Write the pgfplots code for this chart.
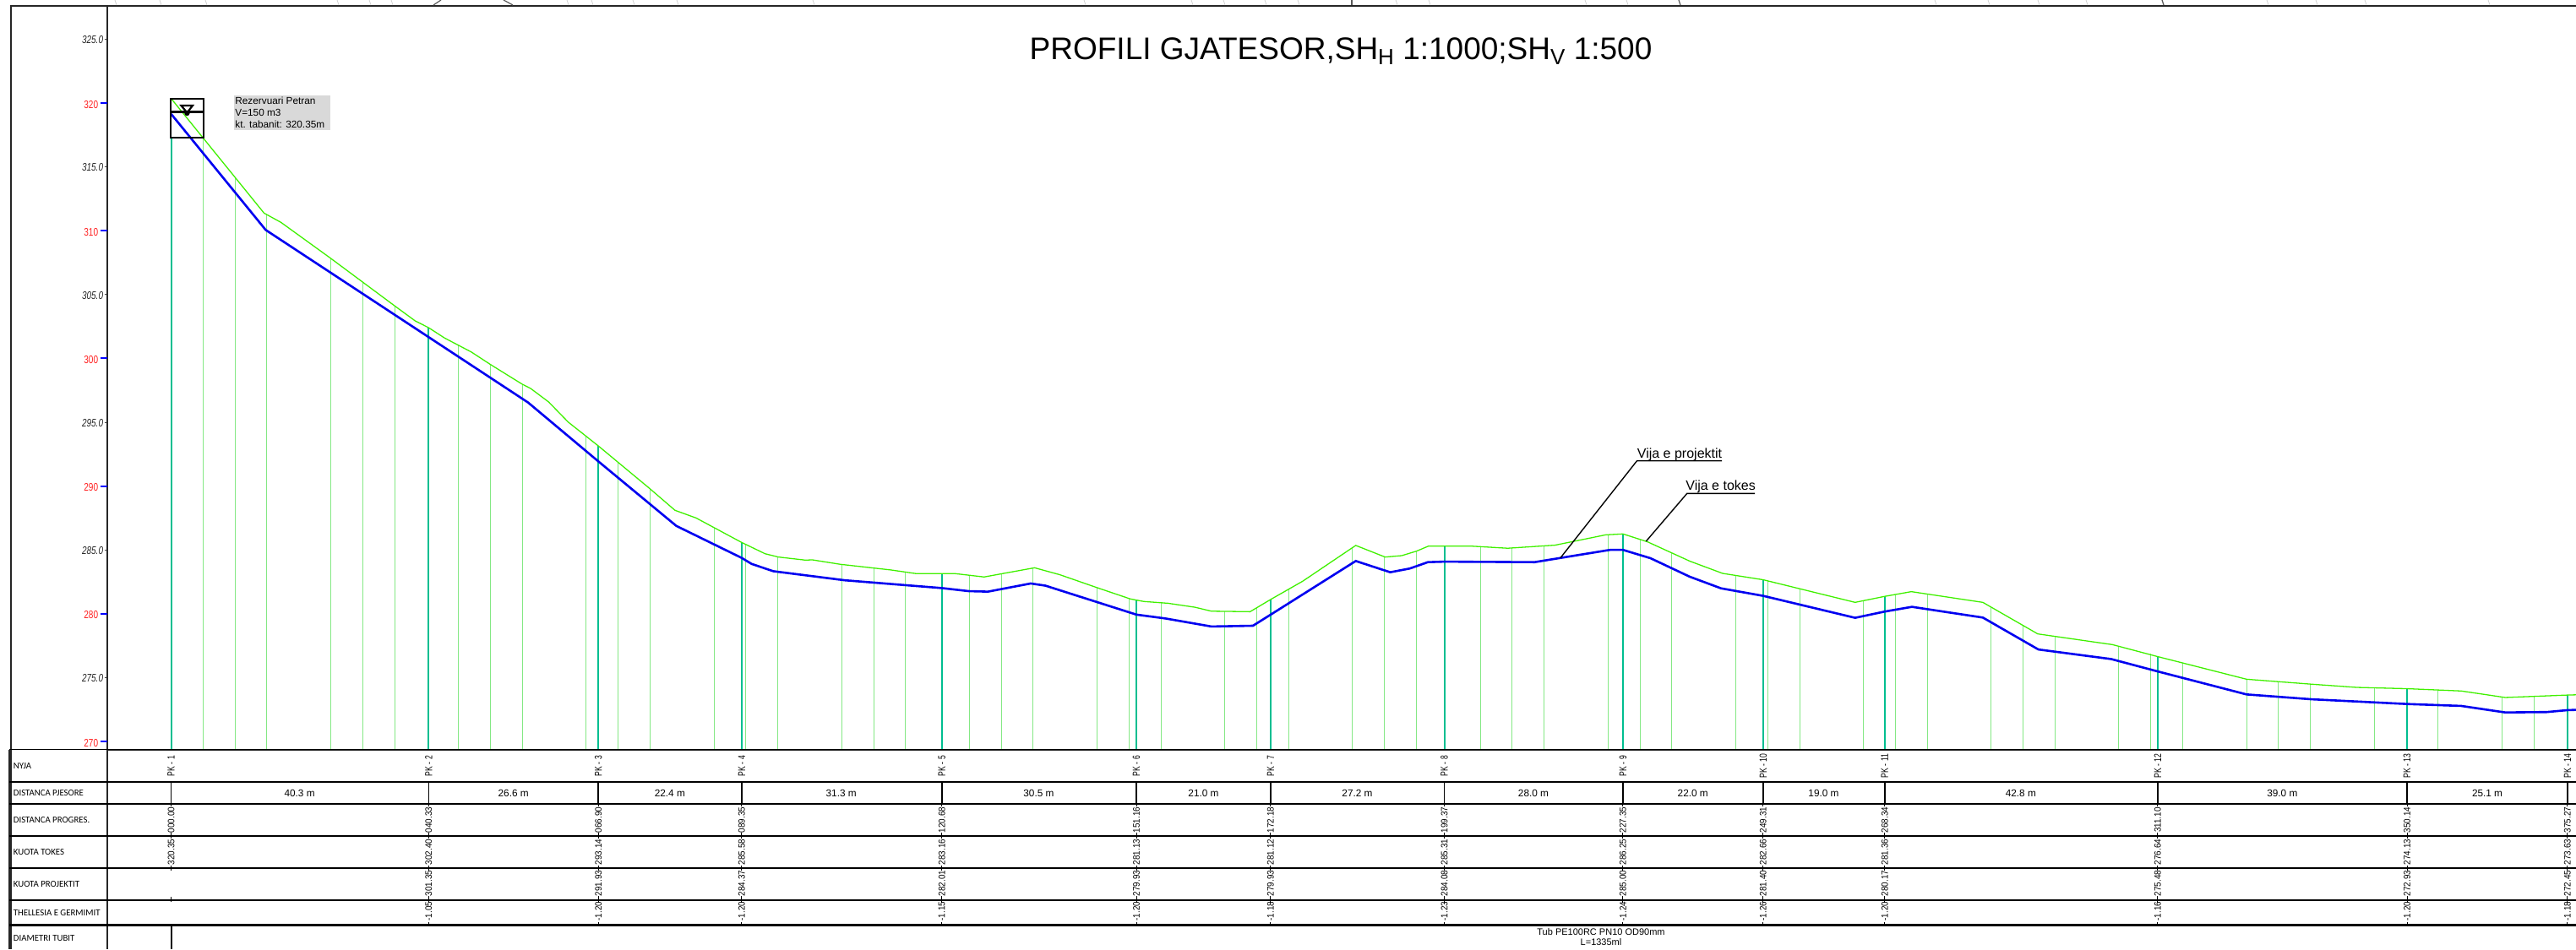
\documentclass[border=0pt]{standalone}
\usepackage{pgfplots}
\usepackage{pgfplotstable}
\usepackage{fontspec}
\usepackage{graphicx}
\pgfplotsset{compat=1.18}
\setmainfont{Liberation Sans}
\newfontfamily\carlito{Carlito}
\definecolor{gnd}{HTML}{40F000}
\definecolor{pipe}{HTML}{0000F0}
\definecolor{stick}{HTML}{84E884}
\definecolor{stat}{HTML}{00BE90}
\definecolor{tickred}{HTML}{FF2020}
\newcommand\subs[1]{\raisebox{-0.3ex}{\fontsize{13}{13}\selectfont #1}}
\newcommand\tl[1]{\scalebox{.77}[1]{#1}}
\newcommand\vl[1]{\scalebox{.9}[1]{#1}}
\newcommand\pk[1]{\scalebox{.72}[1]{#1}}
\pgfplotstableread{
d Y
0 320.35
14.54 311.38
17.2 310.65
25 307.83
34.9 304.15
38.2 302.94
40.33 302.40
42.8 301.6
47 300.5
50 299.52
54.9 298.0
56.3 297.64
59.1 296.59
62.2 295.0
66.9 293.14
74.9 289.82
78.9 288.1
82.2 287.5
89.35 285.58
93 284.7
95.1 284.44
99.3 284.2
100.4 284.22
104.8 283.87
112.7 283.43
116.7 283.14
122.8 283.14
127.3 282.88
135.2 283.6
139.2 283.05
145 282.04
150.2 281.16
152.3 280.96
156.1 280.82
160.3 280.51
162.9 280.2
168.96 280.16
172.18 281.12
177.2 282.55
185.5 285.35
190.1 284.44
192.7 284.55
195 284.9
196.9 285.3
203.4 285.3
209.3 285.13
216.7 285.37
224.65 286.18
227.35 286.25
231.2 285.63
237.8 284.12
242.95 283.16
249.31 282.66
263.7 280.89
268.34 281.36
272.5 281.73
283.7 280.89
292.3 278.42
304 277.58
311.1 276.64
325 274.87
335.2 274.48
342.3 274.23
350.14 274.13
358.6 273.95
365.5 273.44
375.27 273.63
376.6 273.65
}\ground
\pgfplotstableread{
d Y
0 319.14
14.8 310.06
55.9 296.54
66.9 291.93
79.1 286.88
89.35 284.37
90.9 283.9
94.3 283.33
105.5 282.62
120.68 282.01
124.9 281.77
127.9 281.73
134.6 282.37
136.9 282.2
151.16 279.93
155.7 279.63
162.9 279.0
169.4 279.06
172.18 279.93
185.5 284.13
190.9 283.25
193.95 283.54
196.8 284.04
199.37 284.08
213.5 284.04
225.3 285.0
227.35 285.0
231.65 284.35
237.8 282.9
242.7 281.99
249.31 281.40
263.7 279.68
268.34 280.17
272.6 280.54
283.7 279.7
292.4 277.2
303.8 276.45
311.1 275.48
325 273.68
335.2 273.3
350.14 272.93
358.6 272.78
365.5 272.27
372 272.3
375.27 272.45
376.6 272.47
}\project
\pgfplotstableread{
d Y
5 317.3
10 314.18
15 311.25
25 307.83
30 305.97
35 304.1
45 301.02
50 299.52
55 297.96
65 293.89
70 291.85
75 289.78
85 286.75
90 285.42
95 284.45
105 283.85
110 283.58
115 283.31
125 283.01
130 283.12
135 283.58
145 282.04
150 281.19
155 280.86
165 280.19
170 280.47
175 281.92
185 285.18
190 284.46
195 284.9
205 285.25
210 285.15
215 285.31
225 286.2
230 285.8
235 284.75
245 283.0
250 282.62
255 281.96
265 281.02
270 281.5
275 281.54
285 280.52
290 279.08
295 278.23
305 277.45
310 276.85
315 276.14
325 274.87
330 274.68
335 274.49
345 274.2
355 274.03
365 273.48
370 273.53
}\sticks
\pgfplotstableread{
d Y
0 317.3
40.33 302.40
66.90 293.14
89.35 285.58
120.68 283.16
151.16 281.13
172.18 281.12
199.37 285.31
227.35 286.25
249.31 282.66
268.34 281.36
311.10 276.64
350.14 274.13
375.27 273.63
}\stations
\begin{document}
\begin{tikzpicture}
\path[use as bounding box] (0pt,0pt) rectangle (1524.5pt,-562pt);
\begin{axis}[
  at={(63.25pt,-443.75pt)}, anchor=south west,
  scale only axis, width=1461.25pt, height=440.5pt,
  xmin=-10.07, xmax=376.6, ymin=269.37, ymax=327.64,
  axis y line=left, axis x line=bottom,
  axis line style={-, line width=1pt, draw=black!85},
  xtick=\empty,
  clip mode=individual,
  ytick={275,285,295,305,315,325},
  yticklabels={\tl{275.0},\tl{285.0},\tl{295.0},\tl{305.0},\tl{315.0},\tl{325.0}},
  tick align=outside,
  major tick length=1.5pt,
  tick style={draw=black!70, line width=0.4pt},
  yticklabel style={font=\fontsize{6.5}{7}\selectfont\itshape, text=black!85, inner sep=0pt, xshift=-0.5pt, yshift=-0.4pt},
  extra y ticks={270,280,290,300,310,320},
  extra y tick labels={\tl{270},\tl{280},\tl{290},\tl{300},\tl{310},\tl{320}},
  extra y tick style={major tick length=4pt, tick style={draw=blue, line width=1pt},
     yticklabel style={font=\fontsize{6.5}{7}\selectfont, text=tickred, inner sep=0pt, xshift=-0.5pt, yshift=-0.4pt}},
]
\addplot[ycomb, no marks, draw=stick, line width=0.5pt] table[x=d,y=Y] {\sticks};
\addplot[ycomb, no marks, draw=stat, line width=1pt] table[x=d,y=Y] {\stations};
\addplot[no marks, draw=gnd, line width=0.65pt] table[x=d,y=Y] {\ground};
\addplot[no marks, draw=pipe, line width=1.3pt] table[x=d,y=Y] {\project};
\end{axis}

\begin{scope}[x=0.5pt,y=-0.5pt]
% frame
\draw[line width=1pt,black!85] (12,6.5) -- (3049,6.5);
\draw[line width=1pt,black!85] (13,6) -- (13,1124);
\draw[line width=1pt,black!85] (11,887.5) -- (11,1124);
\draw[line width=1pt,black!85] (126.5,887) -- (126.5,1124);
% cut-off fragments of the drawing above
\foreach \a in {136,189,243,399,437,463,671,700,749,801,962,1283,1410,1448,1497,1536,1652,1691,1876,1925,2290,2353,2412,2469,2683,2741,2799,2945}
  \draw[line width=0.4pt,black!18] (\a,0) -- (\a+2,6);
\foreach \a/\b/\c in {522/513/6,596/607/6,1600/1600/6,1987/1989/6,2559/2561/6}
  \draw[line width=0.6pt,black!65] (\a,0) -- (\b,\c);

% title
\node[font=\fontsize{18.5}{22}\selectfont, anchor=center] at (1587,61) {PROFILI GJATESOR,SH\subs{H} 1:1000;SH\subs{V} 1:500};

% reservoir
\fill[black!15] (276.8,113) rectangle (390.6,153.7);
\node[font=\fontsize{5.9}{7}\selectfont, anchor=north west, inner sep=0pt, align=left] at (278,114.5) {Rezervuari Petran\\V=150 m3\\kt. tabanit: 320.35m};
\draw[line width=1.2pt] (202.2,116.7) rectangle (241,163);
\draw[line width=1.2pt] (202.2,132.3) -- (241,132.3);
\draw[line width=1.1pt] (214.5,125) -- (228,125) -- (221.4,133.5) -- cycle;
\fill (221.4,134) circle (1.6pt);

% leaders
\draw[line width=0.7pt] (1846.9,660.7) -- (1937.5,545.7) -- (2038,545.7);
\draw[line width=0.7pt] (1948.3,641) -- (1996.8,584.3) -- (2077,584.3);
\node[font=\fontsize{8}{9}\selectfont, anchor=base west, inner sep=0pt] at (1937.5,542) {Vija e projektit};
\node[font=\fontsize{8}{9}\selectfont, anchor=base west, inner sep=0pt] at (1995,580.5) {Vija e tokes};

% table rows
\foreach \y in {925.7,951.7,990,1027.7,1065.7,1095.3}
  \draw[line width=1.2pt] (11,\y) -- (3049,\y);
\draw[line width=0.9pt] (11,887.5) -- (3049,887.5);
\foreach \t/\y in {NYJA/906.7,DISTANCA PJESORE/938.7,DISTANCA PROGRES./971,KUOTA TOKES/1008.7,KUOTA PROJEKTIT/1046.7,THELLESIA E GERMIMIT/1080.7,DIAMETRI TUBIT/1110.7}
  \node[font=\carlito\fontsize{5.4}{7}\selectfont, anchor=west, inner sep=0pt] at (15.5,\y) {\t};

% row values at the stations
\foreach \n/\d/\tk/\pr/\th in {
  2/040.33/302.40/301.35/-1.05,
  3/066.90/293.14/291.93/-1.20,
  4/089.35/285.58/284.37/-1.20,
  5/120.68/283.16/282.01/-1.15,
  6/151.16/281.13/279.93/-1.20,
  7/172.18/281.12/279.93/-1.18,
  8/199.37/285.31/284.08/-1.23,
  9/227.35/286.25/285.00/-1.24,
  10/249.31/282.66/281.40/-1.26,
  11/268.34/281.36/280.17/-1.20,
  12/311.10/276.64/275.48/-1.16,
  13/350.14/274.13/272.93/-1.20,
  14/375.27/273.63/272.45/-1.18}{
  \pgfmathsetmacro\px{202.6+7.558*\d}
  \node[rotate=90,font=\fontsize{6}{7}\selectfont,inner sep=0pt] at (\px,907) {\pk{PK - \n}};
  \draw[line width=0.8pt] (\px,925.7) -- (\px,951.7);
  \node[rotate=90,font=\fontsize{5.5}{6}\selectfont,inner sep=0pt] at (\px,971) {\vl{\d}};
  \node[rotate=90,font=\fontsize{5.5}{6}\selectfont,inner sep=0pt] at (\px,1009) {\vl{\tk}};
  \node[rotate=90,font=\fontsize{5.5}{6}\selectfont,inner sep=0pt] at (\px,1046) {\vl{\pr}};
  \node[rotate=90,font=\fontsize{5.5}{6}\selectfont,inner sep=0pt] at (\px,1079) {\vl{\th}};
  \foreach \a/\b in {951.7/955,986/990,990/993,1025/1027.7,1027.7/1031,1061/1065.7,1065.7/1069,1092/1095.3}
    \draw[line width=0.5pt] (\px,\a) -- (\px,\b);
}
% station 1
\node[rotate=90,font=\fontsize{6}{7}\selectfont,inner sep=0pt] at (202.6,907) {\pk{PK - 1}};
\draw[line width=0.8pt] (202.6,925.7) -- (202.6,951.7);
\node[rotate=90,font=\fontsize{5.5}{6}\selectfont,inner sep=0pt] at (202.6,971) {\vl{000.00}};
\node[rotate=90,font=\fontsize{5.5}{6}\selectfont,inner sep=0pt] at (202.6,1009) {\vl{320.35}};
\foreach \a/\b in {951.7/955,986/990,990/993,1025/1027.7,1027.7/1031,1062/1065.7,1065.7/1068}
  \draw[line width=0.5pt] (202.6,\a) -- (202.6,\b);
\draw[line width=0.9pt] (203,1095.3) -- (203,1124);

% spans
\foreach \x/\t in {354.6/40.3 m,607.7/26.6 m,792.8/22.4 m,995.7/31.3 m,1229.4/30.5 m,1424.5/21.0 m,1606.5/27.2 m,1815/28.0 m,2003.7/22.0 m,2158.5/19.0 m,2391.8/42.8 m,2701.3/39.0 m,2944/25.1 m}
  \node[font=\fontsize{5.9}{7}\selectfont,inner sep=0pt] at (\x,939) {\t};

% pipe note
\node[font=\fontsize{5.5}{6}\selectfont,inner sep=0pt] at (1895,1103.7) {Tub PE100RC PN10 OD90mm};
\node[font=\fontsize{5.5}{6}\selectfont,inner sep=0pt] at (1895,1115.7) {L=1335ml};
\end{scope}
\end{tikzpicture}
\end{document}
